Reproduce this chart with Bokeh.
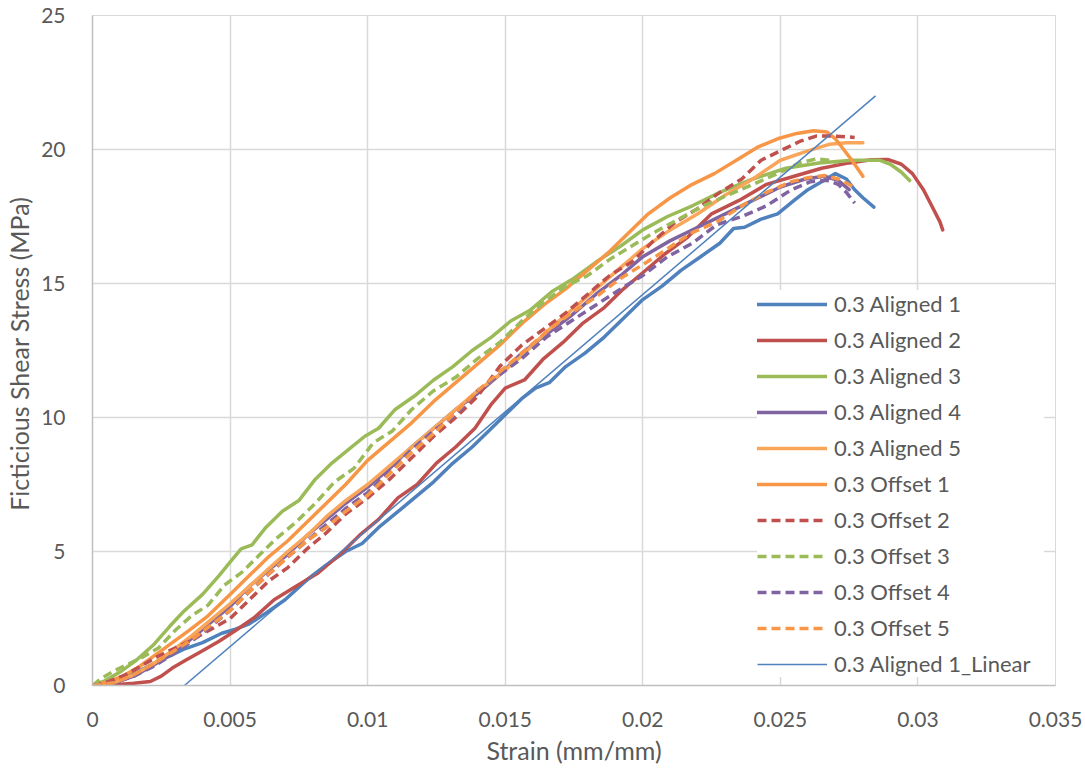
from bokeh.plotting import figure
from bokeh.models import Range1d, FixedTicker, CustomJSTickFormatter, Legend, LegendItem
from bokeh.embed import file_html
from bokeh.resources import INLINE

# ---------------- data ----------------
aligned1_x = [0, 0.0006, 0.0013, 0.002, 0.0027, 0.0033, 0.004, 0.0047, 0.0052, 0.0057, 0.0063, 0.007, 0.0078, 0.0085, 0.0092, 0.0098, 0.0104, 0.011, 0.0117, 0.0124, 0.0131, 0.0138, 0.0145, 0.015, 0.0156, 0.0161, 0.0166, 0.0172, 0.0179, 0.0186, 0.0193, 0.02, 0.0207, 0.0214, 0.0221, 0.0228, 0.0233, 0.0237, 0.0243, 0.0249, 0.0255, 0.026, 0.0265, 0.027, 0.0274, 0.0277, 0.028, 0.0284]
aligned1_y = [0, 0.1, 0.35, 0.7, 1.05, 1.35, 1.6, 1.95, 2.1, 2.3, 2.7, 3.2, 3.95, 4.5, 5.0, 5.3, 5.9, 6.4, 7.0, 7.6, 8.3, 8.9, 9.6, 10.1, 10.7, 11.1, 11.3, 11.9, 12.4, 13.0, 13.7, 14.4, 14.9, 15.5, 16.0, 16.5, 17.05, 17.1, 17.4, 17.6, 18.1, 18.5, 18.8, 19.1, 18.9, 18.5, 18.2, 17.85]

aligned2_x = [0, 0.0008, 0.0015, 0.0021, 0.0025, 0.0029, 0.0034, 0.004, 0.0046, 0.0052, 0.0059, 0.0066, 0.0074, 0.0082, 0.009, 0.0097, 0.0104, 0.0111, 0.0118, 0.0125, 0.0132, 0.0139, 0.0145, 0.015, 0.0157, 0.0164, 0.0171, 0.0178, 0.0186, 0.0193, 0.02, 0.0208, 0.0216, 0.0225, 0.0235, 0.0245, 0.0255, 0.0265, 0.0275, 0.0283, 0.0289, 0.0294, 0.0298, 0.0302, 0.0305, 0.0308, 0.0309]
aligned2_y = [0, 0.03, 0.08, 0.15, 0.35, 0.65, 0.95, 1.3, 1.65, 2.05, 2.55, 3.2, 3.7, 4.2, 4.9, 5.6, 6.2, 7.0, 7.5, 8.3, 8.9, 9.6, 10.5, 11.1, 11.4, 12.2, 12.8, 13.5, 14.1, 14.8, 15.4, 16.1, 16.7, 17.6, 18.1, 18.7, 19.0, 19.3, 19.5, 19.62, 19.63, 19.45, 19.1, 18.5, 17.9, 17.3, 17.0]

aligned3_x = [0, 0.0004, 0.001, 0.0016, 0.0022, 0.0028, 0.0033, 0.004, 0.0046, 0.005, 0.0054, 0.0058, 0.0063, 0.0069, 0.0075, 0.0081, 0.0087, 0.0093, 0.0099, 0.0104, 0.011, 0.0117, 0.0124, 0.0131, 0.0138, 0.0145, 0.0152, 0.0159, 0.0167, 0.0175, 0.0183, 0.0192, 0.02, 0.0209, 0.0218, 0.0228, 0.024, 0.0252, 0.0264, 0.0276, 0.0286, 0.029, 0.0294, 0.0297]
aligned3_y = [0, 0.15, 0.5, 0.95, 1.5, 2.2, 2.75, 3.4, 4.1, 4.6, 5.1, 5.25, 5.9, 6.5, 6.9, 7.7, 8.3, 8.8, 9.3, 9.6, 10.3, 10.8, 11.4, 11.9, 12.5, 13.0, 13.6, 14.0, 14.7, 15.2, 15.8, 16.4, 17.0, 17.5, 17.9, 18.4, 18.9, 19.3, 19.5, 19.6, 19.6, 19.45, 19.15, 18.84]

aligned4_x = [0, 0.0008, 0.0015, 0.0022, 0.0029, 0.0036, 0.0043, 0.005, 0.0057, 0.0064, 0.0071, 0.0078, 0.0085, 0.0092, 0.01, 0.0108, 0.0116, 0.0124, 0.0132, 0.014, 0.0148, 0.0156, 0.0165, 0.0174, 0.0183, 0.0192, 0.02, 0.021, 0.022, 0.023, 0.024, 0.025, 0.0259, 0.0266, 0.0271, 0.0275]
aligned4_y = [0, 0.1, 0.35, 0.75, 1.2, 1.75, 2.35, 2.95, 3.7, 4.3, 4.9, 5.6, 6.2, 6.8, 7.4, 8.1, 8.9, 9.6, 10.3, 10.9, 11.6, 12.4, 13.1, 13.8, 14.6, 15.3, 16.0, 16.6, 17.1, 17.6, 18.1, 18.6, 18.9, 19.0, 18.85, 18.5]

aligned5_x = [0, 0.0008, 0.0015, 0.0022, 0.0029, 0.0036, 0.0043, 0.005, 0.0057, 0.0064, 0.0071, 0.0078, 0.0085, 0.0092, 0.01, 0.0108, 0.0116, 0.0124, 0.0132, 0.014, 0.0148, 0.0156, 0.0165, 0.0174, 0.0183, 0.0192, 0.02, 0.021, 0.022, 0.023, 0.024, 0.025, 0.026, 0.0268, 0.0274, 0.028]
aligned5_y = [0, 0.12, 0.4, 0.8, 1.3, 1.85, 2.45, 3.05, 3.7, 4.35, 5.0, 5.6, 6.3, 6.9, 7.5, 8.2, 8.9, 9.6, 10.3, 11.0, 11.6, 12.3, 13.2, 14.0, 14.8, 15.6, 16.3, 17.0, 17.6, 18.3, 18.9, 19.6, 19.95, 20.2, 20.25, 20.25]

offset1_x = [0, 0.0005, 0.0011, 0.0017, 0.0023, 0.0029, 0.0035, 0.0042, 0.005, 0.0057, 0.0064, 0.0071, 0.0078, 0.0085, 0.0092, 0.01, 0.0108, 0.0116, 0.0124, 0.0132, 0.014, 0.0148, 0.0156, 0.0164, 0.0172, 0.018, 0.0188, 0.0195, 0.0202, 0.021, 0.0218, 0.0226, 0.0234, 0.0242, 0.0249, 0.0256, 0.0262, 0.0267, 0.027, 0.0273, 0.0276, 0.0278, 0.028]
offset1_y = [0, 0.12, 0.35, 0.7, 1.15, 1.6, 2.05, 2.6, 3.4, 4.1, 4.8, 5.4, 6.1, 6.8, 7.5, 8.4, 9.1, 9.8, 10.6, 11.3, 12.0, 12.7, 13.5, 14.2, 14.8, 15.5, 16.2, 16.9, 17.6, 18.2, 18.7, 19.1, 19.6, 20.1, 20.4, 20.6, 20.7, 20.65, 20.4, 20.0, 19.6, 19.3, 19.0]

offset2_x = [0, 0.0006, 0.0012, 0.0018, 0.0024, 0.003, 0.0037, 0.0044, 0.005, 0.0057, 0.0064, 0.0071, 0.0078, 0.0085, 0.0092, 0.01, 0.0108, 0.0116, 0.0124, 0.0132, 0.014, 0.0148, 0.0156, 0.0164, 0.0172, 0.018, 0.0188, 0.0196, 0.0204, 0.0212, 0.022, 0.0228, 0.0236, 0.0243, 0.025, 0.0257, 0.0263, 0.027, 0.0277]
offset2_y = [0, 0.15, 0.4, 0.75, 1.1, 1.4, 1.75, 2.15, 2.5, 3.2, 3.9, 4.4, 5.1, 5.7, 6.4, 7.0, 7.7, 8.5, 9.3, 10.0, 10.8, 11.9, 12.7, 13.3, 13.9, 14.6, 15.3, 15.8, 16.6, 17.3, 17.8, 18.4, 18.9, 19.6, 19.95, 20.3, 20.5, 20.5, 20.45]

offset3_x = [0, 0.0003, 0.0008, 0.0013, 0.0018, 0.0024, 0.003, 0.0036, 0.0042, 0.0048, 0.0054, 0.006, 0.0067, 0.0074, 0.0081, 0.0088, 0.0095, 0.0102, 0.0109, 0.0116, 0.0124, 0.0132, 0.014, 0.0148, 0.0156, 0.0164, 0.0172, 0.018, 0.0188, 0.0196, 0.0204, 0.0213, 0.0222, 0.0231, 0.024, 0.0249, 0.0257, 0.0263, 0.0268, 0.0271]
offset3_y = [0, 0.25, 0.55, 0.8, 1.05, 1.4, 2.05, 2.6, 3.0, 3.75, 4.2, 4.8, 5.5, 6.1, 6.8, 7.6, 8.1, 9.05, 9.5, 10.3, 11.0, 11.5, 12.2, 12.8, 13.6, 14.3, 14.9, 15.3, 15.9, 16.4, 16.9, 17.4, 17.9, 18.3, 18.7, 19.1, 19.5, 19.65, 19.6, 19.5]

offset4_x = [0, 0.0008, 0.0015, 0.0022, 0.0029, 0.0036, 0.0043, 0.005, 0.0057, 0.0064, 0.0071, 0.0078, 0.0085, 0.0092, 0.01, 0.0108, 0.0116, 0.0124, 0.0132, 0.014, 0.0148, 0.0156, 0.0165, 0.0174, 0.0183, 0.0192, 0.02, 0.0209, 0.0218, 0.0227, 0.0236, 0.0245, 0.0254, 0.0261, 0.0267, 0.0271, 0.0274, 0.0277]
offset4_y = [0, 0.1, 0.35, 0.7, 1.15, 1.65, 2.2, 2.8, 3.5, 4.15, 4.8, 5.4, 6.0, 6.6, 7.2, 8.0, 8.8, 9.5, 10.1, 11.0, 11.6, 12.2, 13.0, 13.6, 14.2, 14.8, 15.3, 16.0, 16.5, 17.2, 17.5, 17.9, 18.5, 18.8, 18.85, 18.7, 18.4, 18.0]

offset5_x = [0, 0.0008, 0.0015, 0.0022, 0.0029, 0.0036, 0.0043, 0.005, 0.0057, 0.0064, 0.0071, 0.0078, 0.0085, 0.0092, 0.01, 0.0108, 0.0116, 0.0124, 0.0132, 0.014, 0.0148, 0.0156, 0.0165, 0.0174, 0.0183, 0.0192, 0.02, 0.0209, 0.0218, 0.0227, 0.0236, 0.0245, 0.0254, 0.026, 0.0266, 0.0271, 0.0274, 0.0277]
offset5_y = [0, 0.1, 0.4, 0.8, 1.25, 1.7, 2.25, 2.8, 3.5, 4.15, 4.8, 5.4, 5.9, 6.5, 7.1, 7.9, 8.7, 9.4, 10.2, 11.0, 11.7, 12.4, 13.2, 13.9, 14.5, 15.2, 15.7, 16.3, 16.9, 17.3, 17.9, 18.4, 18.8, 18.95, 19.03, 18.9, 18.75, 18.58]

# linear trendline of Aligned 1: y = slope * x + intercept
linear_x = [0.00334, 0.02846]
linear_slope = 875.8
linear_intercept = -2.925

x_ticks = [0, 0.005, 0.01, 0.015, 0.02, 0.025, 0.03, 0.035]
y_ticks = [0, 5, 10, 15, 20, 25]

series = [
    ("0.3 Aligned 1", aligned1_x, aligned1_y, "#4F81BD", None),
    ("0.3 Aligned 2", aligned2_x, aligned2_y, "#C0504D", None),
    ("0.3 Aligned 3", aligned3_x, aligned3_y, "#9BBB59", None),
    ("0.3 Aligned 4", aligned4_x, aligned4_y, "#8064A2", None),
    ("0.3 Aligned 5", aligned5_x, aligned5_y, "#F9A65A", None),
    ("0.3 Offset 1", offset1_x, offset1_y, "#F79646", None),
    ("0.3 Offset 2", offset2_x, offset2_y, "#C0504D", "9 5"),
    ("0.3 Offset 3", offset3_x, offset3_y, "#9BBB59", "9 5"),
    ("0.3 Offset 4", offset4_x, offset4_y, "#8064A2", "9 5"),
    ("0.3 Offset 5", offset5_x, offset5_y, "#F79646", "9 5"),
]

FONT = "Lato"
TXT = "#595959"

p = figure(width=1085, height=773, x_range=Range1d(0, 0.035), y_range=Range1d(0, 25),
           output_backend="svg", toolbar_location=None,
           min_border_left=92, min_border_right=30, min_border_top=15, min_border_bottom=88)

p.background_fill_color = "white"
p.border_fill_color = "white"
p.outline_line_color = "#D9D9D9"
p.outline_line_width = 1

p.xaxis.ticker = FixedTicker(ticks=x_ticks)
p.yaxis.ticker = FixedTicker(ticks=y_ticks)
p.xaxis.formatter = CustomJSTickFormatter(code="return String(parseFloat(tick.toFixed(4)));")
p.xgrid.ticker = FixedTicker(ticks=x_ticks)
p.ygrid.ticker = FixedTicker(ticks=y_ticks)
for g in (p.xgrid, p.ygrid):
    g.grid_line_color = "#D9D9D9"
    g.grid_line_width = 1.5

for ax in (p.xaxis, p.yaxis):
    ax.axis_line_color = "#BFBFBF"
    ax.axis_line_width = 1.5
    ax.major_tick_line_color = None
    ax.minor_tick_line_color = None
    ax.major_label_text_font = FONT
    ax.major_label_text_font_size = "21px"
    ax.major_label_text_color = TXT
    ax.axis_label_text_font = FONT
    ax.axis_label_text_font_size = "25px"
    ax.axis_label_text_font_style = "normal"
    ax.axis_label_text_color = TXT

p.xaxis.major_label_standoff = 20
p.yaxis.major_label_standoff = 21
p.xaxis.axis_label_standoff = 5
p.yaxis.axis_label_standoff = 4
p.xaxis.axis_label = "Strain (mm/mm)"
p.yaxis.axis_label = "Ficticious  Shear Stress (MPa)"

items = []
for name, xs, ys, color, dash in series:
    kw = dict(line_color=color, line_width=3.5, line_join="round")
    if dash:
        kw["line_dash"] = dash
        kw["line_cap"] = "butt"
    else:
        kw["line_cap"] = "round"
    r = p.line(xs, ys, **kw)
    items.append(LegendItem(label=name, renderers=[r]))

lin_y = [linear_slope * x + linear_intercept for x in linear_x]
rl = p.line(linear_x, lin_y, line_color="#4F81BD", line_width=1.5)
items.append(LegendItem(label="0.3 Aligned 1_Linear", renderers=[rl]))

legend = Legend(items=items, location=(665, 8))
legend.background_fill_color = "white"
legend.background_fill_alpha = 1
legend.border_line_color = None
legend.padding = 6
legend.margin = 0
legend.spacing = 9
legend.glyph_width = 70
legend.glyph_height = 20
legend.label_height = 20
legend.label_width = 210
legend.label_standoff = 7
legend.label_text_font = FONT
legend.label_text_font_size = "22px"
legend.label_text_color = TXT
legend.label_text_baseline = "middle"
p.add_layout(legend)

open("out.html", "w").write(file_html(p, INLINE))
